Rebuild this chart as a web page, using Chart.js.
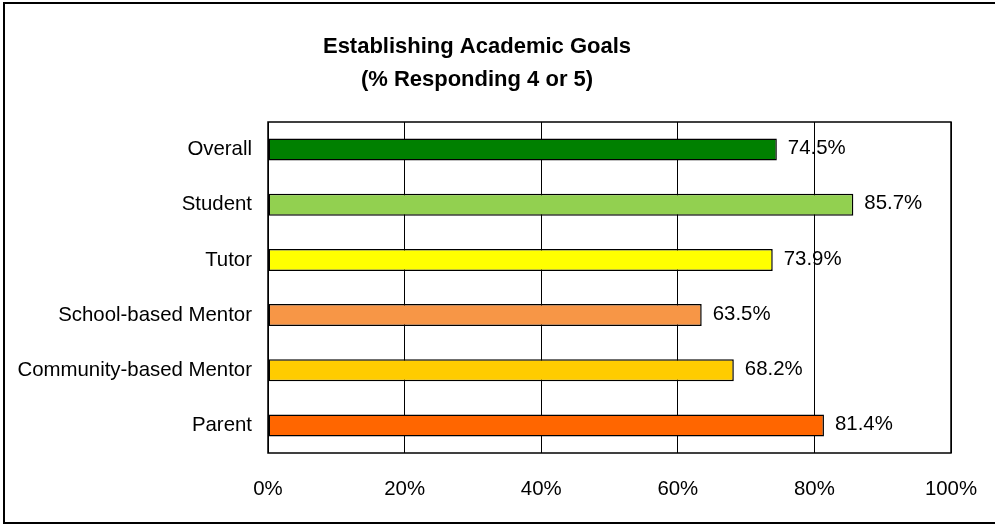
<!DOCTYPE html>
<html lang="en">
<head>
  <meta charset="UTF-8" />
  <title>Establishing Academic Goals</title>
  <script src="https://cdn.jsdelivr.net/npm/chart.js"></script>
  <style>
    body { margin: 0; background: #fff; }
    .wrap { width: 995px; height: 525px; }
  </style>
</head>
<body>
  <div class="wrap"><canvas id="goalsChart" width="995" height="525"></canvas></div>

  <script>
    const groups = ['Overall', 'Student', 'Tutor', 'School-based Mentor', 'Community-based Mentor', 'Parent'];
    const percents = [74.5, 85.7, 73.9, 63.5, 68.2, 81.4];
    const barColors = ['#008000', '#92D050', '#FFFF00', '#F79646', '#FFCC00', '#FF6600'];
    const titleLines = ['Establishing Academic Goals', '(% Responding 4 or 5)'];

    const FONT = "'Liberation Sans', Arial, sans-serif";
    const LABEL_SIZE = 20.4;

    // outer frame, title, plot border and value labels
    const decorations = {
      id: 'decorations',
      beforeDraw(chart) {
        const ctx = chart.ctx;
        ctx.save();
        ctx.fillStyle = '#fff';
        ctx.fillRect(0, 0, chart.width, chart.height);
        ctx.restore();
      },
      afterDraw(chart) {
        const ctx = chart.ctx;
        const a = chart.chartArea;
        ctx.save();
        ctx.strokeStyle = '#000';
        ctx.lineWidth = 2;
        ctx.strokeRect(4, 3, 992, 520);

        ctx.lineWidth = 1.5;
        ctx.strokeRect(a.left, a.top, a.right - a.left, a.bottom - a.top);

        ctx.fillStyle = '#000';
        ctx.textAlign = 'center';
        ctx.textBaseline = 'middle';
        ctx.font = 'bold 22px ' + FONT;
        ctx.fillText(titleLines[0], 477, 47);
        ctx.fillText(titleLines[1], 477, 80);

        ctx.font = LABEL_SIZE + 'px ' + FONT;
        ctx.textAlign = 'left';
        const meta = chart.getDatasetMeta(0);
        meta.data.forEach((bar, i) => {
          ctx.fillText(percents[i].toFixed(1) + '%', bar.x + 11, bar.y - 1);
        });
        ctx.restore();
      }
    };

    new Chart(document.getElementById('goalsChart'), {
      type: 'bar',
      data: {
        labels: groups,
        datasets: [{
          data: percents,
          backgroundColor: barColors,
          borderColor: '#000',
          borderWidth: 1.5,
          borderSkipped: false,
          categoryPercentage: 1,
          barPercentage: 0.4
        }]
      },
      options: {
        indexAxis: 'y',
        responsive: false,
        animation: false,
        layout: { padding: { top: 122, right: 44, left: 0, bottom: 0 } },
        plugins: {
          legend: { display: false },
          tooltip: { enabled: false }
        },
        scales: {
          x: {
            min: 0,
            max: 100,
            afterFit(scale) {
              scale.height = 72;
              scale.paddingLeft = 0;
              scale.paddingRight = 0;
            },
            ticks: {
              stepSize: 20,
              padding: 24,
              color: '#000',
              font: { family: FONT, size: LABEL_SIZE },
              callback: v => v + '%'
            },
            grid: { color: '#000', lineWidth: 1, drawTicks: false },
            border: { display: false }
          },
          y: {
            afterFit(scale) { scale.width = 268; },
            ticks: {
              padding: 16,
              color: '#000',
              font: { family: FONT, size: LABEL_SIZE }
            },
            grid: { display: false, drawTicks: false },
            border: { display: false }
          }
        }
      },
      plugins: [decorations]
    });
  </script>
</body>
</html>
